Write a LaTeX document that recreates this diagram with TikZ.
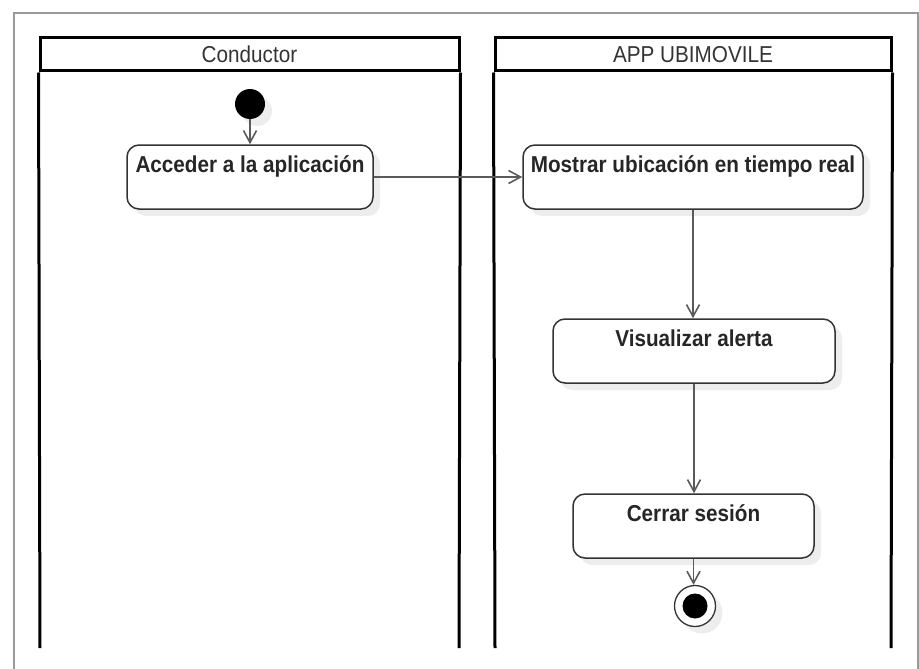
\documentclass[tikz,border=0pt]{standalone}
\usepackage{fontspec}
\setmainfont[FakeStretch=0.9]{Liberation Sans}
\usetikzlibrary{arrows.meta,shadows}
\definecolor{boxline}{HTML}{333333}
\definecolor{conn}{HTML}{5A5A5A}
\definecolor{frame}{HTML}{9A9A9A}
\begin{document}
\begin{tikzpicture}[x=1pt,y=-1pt,
  shade/.style={drop shadow={shadow xshift=7pt,shadow yshift=-7pt,opacity=1,fill=black!7}},
  lanehead/.style={draw=black,line width=3pt,minimum height=33pt,inner sep=0pt,
     font=\fontsize{23}{26}\selectfont,text=black!80},
  lanewall/.style={draw=black,line width=3pt},
  actbox/.style={draw=boxline,line width=1.5pt,rounded corners=12pt,fill=white,shade,
     inner xsep=2pt,inner ysep=4pt,text height=23pt,text depth=33pt,minimum height=64pt,
     font=\bfseries\fontsize{23}{26}\selectfont,text=black!85},
  flow/.style={draw=conn,line width=1.6pt,-{Straight Barb[length=12pt,width=13pt,line width=1.6pt]}},
  startdot/.style={circle,fill=black,minimum size=30pt,inner sep=0pt,shade},
  endring/.style={circle,draw=boxline,line width=1.3pt,fill=white,minimum size=41pt,inner sep=0pt,shade},
  enddot/.style={circle,fill=black,minimum size=25pt,inner sep=0pt}
]
\useasboundingbox (0,0) rectangle (919,669);
% outer frame
\draw[frame,line width=2pt] (14,669) -- (14,13) -- (918,13) -- (918,669);
% lanes
\node[lanehead,minimum width=419pt] (laneA) at (249.5,54.5) {Conductor};
\node[lanehead,minimum width=396pt] (laneB) at (693,54.5) {APP UBIMOVILE};
\coordinate (aL) at (40,648);
\coordinate (aR) at (459,648);
\coordinate (bL) at (495,648);
\coordinate (bR) at (891,648);
\draw[lanewall] (laneA.south west) -- (aL);
\draw[lanewall] (laneA.south east) -- (aR);
\draw[lanewall] (laneB.south west) -- (bL);
\draw[lanewall] (laneB.south east) -- (bR);
% nodes
\node[startdot] (start) at (250,104) {};
\node[actbox,minimum width=246pt] (acc) at (250,177) {Acceder a la aplicación};
\node[actbox,minimum width=340pt] (most) at (693,177) {Mostrar ubicación en tiempo real};
\node[actbox,minimum width=282pt] (vis) at (694,351) {Visualizar alerta};
\node[actbox,minimum width=241pt] (cer) at (693.5,526) {Cerrar sesión};
\node[endring] (fin) at (695,606) {};
\node[enddot] (findot) at (fin.center) {};
% connectors
\draw[flow] (start) -- (acc.north);
\draw[flow] (acc.east) -- (most.west);
\draw[flow] (most.south) -- (most.south |- vis.north);
\draw[flow] (vis.south) -- (vis.south |- cer.north);
\draw[flow] (cer.south) -- (cer.south |- fin.north);
\end{tikzpicture}
\end{document}
